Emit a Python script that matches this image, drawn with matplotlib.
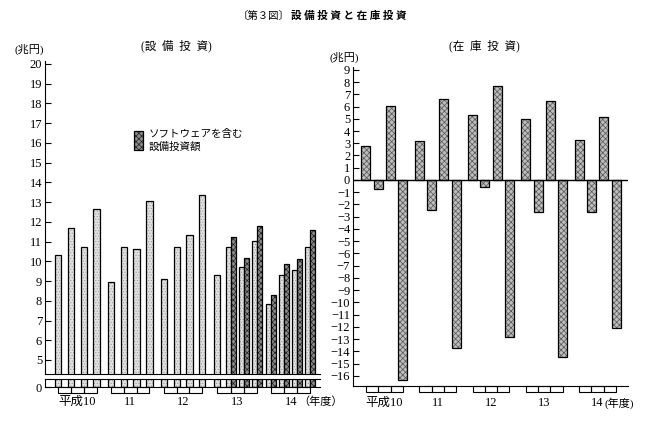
import matplotlib
matplotlib.use('Agg')
import matplotlib.pyplot as plt
import numpy as np
from matplotlib.patches import Rectangle

plt.rcParams['font.family'] = ['Liberation Serif', 'Noto Sans CJK JP']
plt.rcParams['hatch.linewidth'] = 0.5

nan = np.nan
years = ['平成10', '11', '12', '13', '14']

# 設備投資 (quarterly, 兆円)
capex = [10.3, 11.7, 10.7, 12.65,
         8.95, 10.7, 10.6, 13.05,
         9.1, 10.7, 11.35, 13.35,
         9.3, 10.75, 9.7, 11.05,
         7.85, 9.3, 9.55, 10.75]
# ソフトウェアを含む設備投資額
capex_sw = [nan, nan, nan, nan,
            nan, nan, nan, nan,
            nan, nan, nan, nan,
            nan, 11.25, 10.15, 11.8,
            8.3, 9.85, 10.1, 11.6]
# 在庫投資 (quarterly, 兆円)
inventory = [2.8, -0.7, 6.05, -16.3,
             3.15, -2.45, 6.6, -13.75,
             5.3, -0.6, 7.65, -12.85,
             5.0, -2.6, 6.45, -14.45,
             3.3, -2.6, 5.15, -12.05]

capex = np.array(capex)
capex_sw = np.array(capex_sw)
inventory = np.array(inventory)
k = np.arange(len(capex))
yr = k // 4
qt = k % 4

LIGHT = dict(face='#e2e2e2', hatch='......', hcolor='#9c9c9c')
DARK = dict(face='#8c8c8c', hatch='xxxxxx', hcolor='#202020')
MID = dict(face='#bdbdbd', hatch='xxxxxx', hcolor='#555555')


def hatched_bars(ax, x, h, w, face, hatch, hcolor):
    ax.bar(x, h, w, align='edge', color=face, edgecolor=hcolor, hatch=hatch, linewidth=0)
    ax.bar(x, h, w, align='edge', fill=False, edgecolor='black', linewidth=0.9)


def quarter_boxes(ax, centers, y0, hgt):
    for i in range(len(years)):
        c = centers[yr == i]
        for j in range(3):
            ax.add_patch(Rectangle((c[j], y0), c[j + 1] - c[j], hgt, fill=False,
                                   edgecolor='black', linewidth=0.8, clip_on=False))


W, H = 654, 424
fig = plt.figure(figsize=(W / 100, H / 100), dpi=100)

# ---------------- 設備投資 ----------------
has_sw = ~np.isnan(capex_sw)
xl = yr * 4.13 + qt
wl = np.where(has_sw, 0.39, 0.49)
centers_l = np.where(has_sw, xl + 0.39, xl + 0.245)

ax1 = fig.add_axes([45 / W, 50 / H, 275 / W, 313 / H])
ax0 = fig.add_axes([45 / W, 37 / H, 275 / W, 8 / H])
for ax in (ax1, ax0):
    hatched_bars(ax, xl, capex, wl, **LIGHT)
    hatched_bars(ax, xl[has_sw] + 0.39, capex_sw[has_sw], 0.39, **DARK)
    ax.set_xlim(-0.78, 20.7)
    ax.spines['right'].set_visible(False)
    ax.set_xticks([])
    ax.tick_params(axis='y', direction='in', length=4, width=0.8, labelsize=9, pad=2)
ax1.spines['top'].set_visible(False)
ax1.set_ylim(4.29, 20.15)
ax1.set_yticks(range(5, 21))
ax0.set_ylim(0, 0.4)
ax0.set_yticks([0])
quarter_boxes(ax0, centers_l, -0.3, 0.3)
for i, lab in enumerate(years):
    gc = centers_l[yr == i].mean()
    ax0.text(gc, -0.75, lab, ha='center', va='center', fontsize=9)
ax0.text(centers_l[yr == 4].mean() + 0.6, -0.75, '（年度）', ha='left', va='center', fontsize=8)

# legend
for kw in (dict(facecolor=DARK['face'], edgecolor=DARK['hcolor'], hatch=DARK['hatch'], linewidth=0),
           dict(fill=False, edgecolor='black', linewidth=0.9)):
    fig.patches.append(Rectangle((134 / W, 1 - 150 / H), 9 / W, 19 / H,
                                 transform=fig.transFigure, **kw))
fig.text(149 / W, 1 - 134 / H, 'ソフトウェアを含む', ha='left', va='center', fontsize=7.6)
fig.text(149 / W, 1 - 147 / H, '設備投資額', ha='left', va='center', fontsize=7.6)

# ---------------- 在庫投資 ----------------
xr = yr * 4.33 + qt
centers_r = xr + 0.365
ax2 = fig.add_axes([353 / W, 38 / H, 275 / W, 319.3 / H])
hatched_bars(ax2, xr, inventory, 0.73, **MID)
ax2.axhline(0, color='black', linewidth=1.0)
ax2.set_xlim(-0.68, 21.65)
ax2.set_ylim(-16.82, 9.25)
ax2.set_yticks(range(-16, 10))
ax2.set_xticks([])
ax2.spines['top'].set_visible(False)
ax2.spines['right'].set_visible(False)
ax2.tick_params(axis='y', direction='in', length=4, width=0.8, labelsize=9, pad=2)
quarter_boxes(ax2, centers_r, -16.82 - 0.5, 0.5)
for i, lab in enumerate(years):
    ax2.text(centers_r[yr == i].mean(), -18.2, lab, ha='center', va='center', fontsize=9)
ax2.text(centers_r[yr == 4].mean() + 0.55, -18.2, '(年度)', ha='left', va='center', fontsize=8)

# titles
fig.text(264 / W, 1 - 16 / H, '〔第３図〕', ha='center', va='center', fontsize=7.5)
fig.text(291 / W, 1 - 16 / H, '設 備 投 資 と 在 庫 投 資', ha='left', va='center',
         fontsize=7.6, fontweight='bold')
fig.text(176 / W, 1 - 46 / H, '(設  備  投  資)', ha='center', va='center', fontsize=8.3)
fig.text(484 / W, 1 - 46 / H, '(在  庫  投  資)', ha='center', va='center', fontsize=8.3)
fig.text(29 / W, 1 - 49 / H, '(兆円)', ha='center', va='center', fontsize=8)
fig.text(344 / W, 1 - 57 / H, '(兆円)', ha='center', va='center', fontsize=8)

fig.savefig('out.png', dpi=100)
